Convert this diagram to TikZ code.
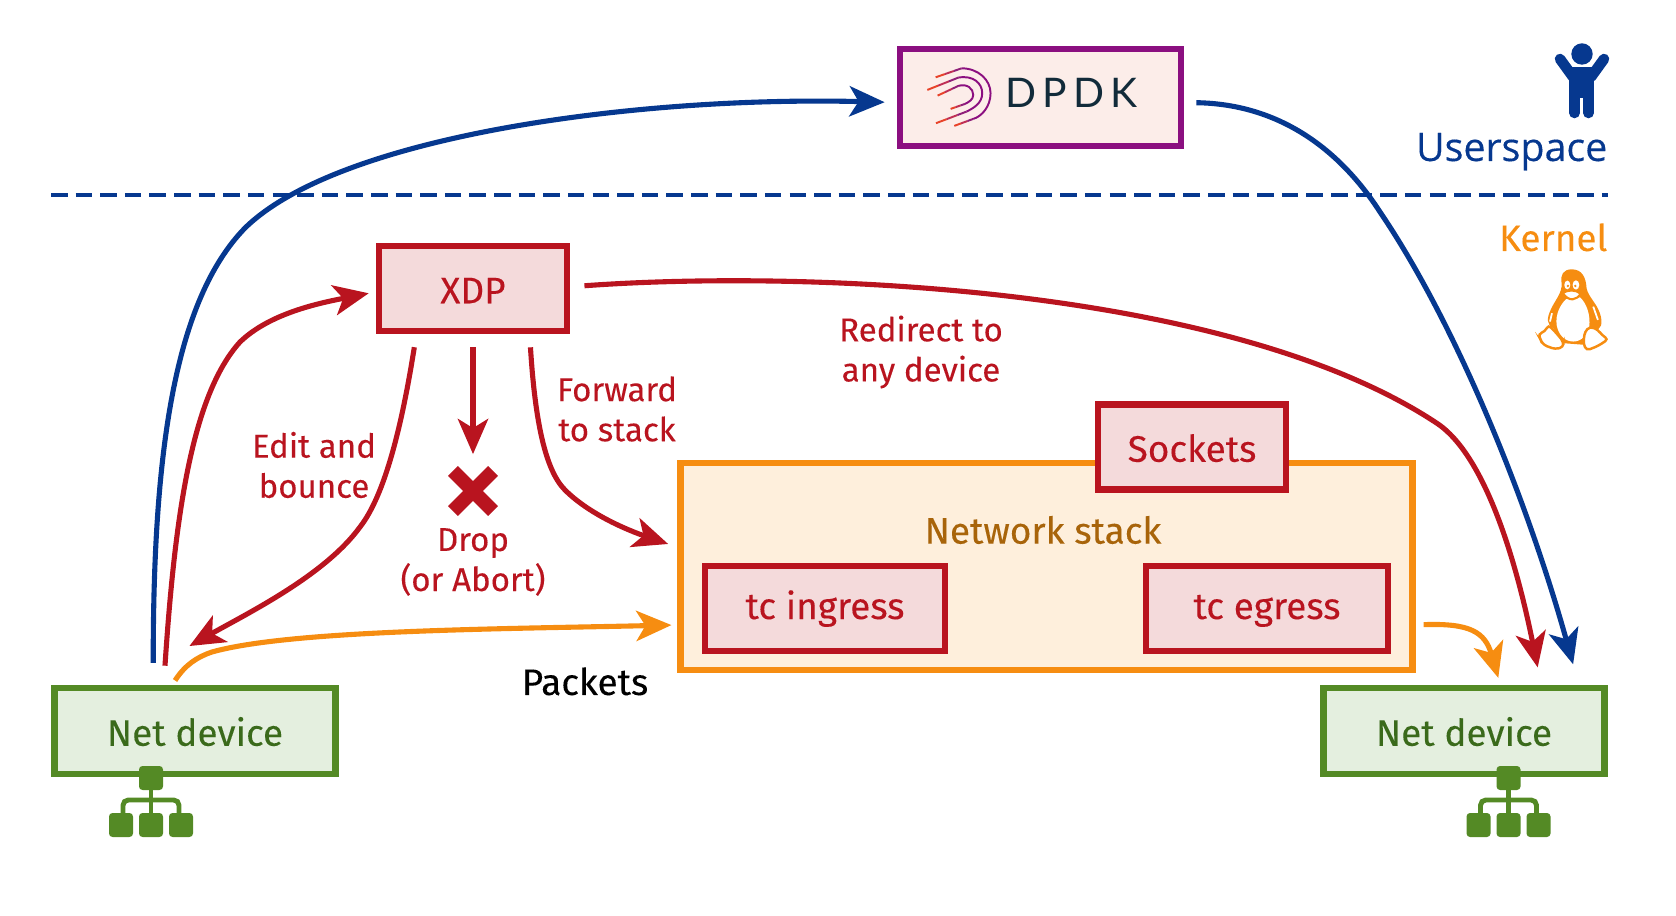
\documentclass[tikz,border=0pt]{standalone}
\usepackage{fontspec}
\setmainfont[FakeBold=0.15]{Fira Sans}
\newfontfamily\userfont[FakeBold=0.3]{Open Sans}
\newfontfamily\dpdkfont[LetterSpace=15]{Lato}
\usetikzlibrary{calc,positioning,arrows.meta,shapes.misc}
\definecolor{xred}{HTML}{B9141F}
\definecolor{xredbg}{HTML}{F4DADB}
\definecolor{xorange}{HTML}{F68D11}
\definecolor{xorangebg}{HTML}{FEEFDC}
\definecolor{xbrown}{HTML}{A8640A}
\definecolor{xgreen}{HTML}{548A25}
\definecolor{xgreenbg}{HTML}{E4EFDF}
\definecolor{xgreentx}{HTML}{3A6A1B}
\definecolor{xblue}{HTML}{06388F}
\definecolor{xpurple}{HTML}{8B0F80}
\definecolor{xpurplebg}{HTML}{FCEDE9}
\definecolor{xink}{HTML}{122B3A}
\definecolor{logoa}{HTML}{E8432A}
\definecolor{logob}{HTML}{BF2F55}
\definecolor{logoc}{HTML}{8E1F78}
\tikzset{
 txt/.style={font=\fontsize{10.5}{11.4}\selectfont},
 box/.style={draw, line width=1.9pt, txt, text height=8.4pt, text depth=0pt, minimum width=1.88cm, minimum height=.85cm, inner sep=0pt},
 redbox/.style={box, draw=xred, fill=xredbg, text=xred},
 netbox/.style={box, draw=xgreen, fill=xgreenbg, text=xgreentx, minimum width=2.81cm, minimum height=.86cm},
 lbl/.style={font=\fontsize{9.4}{11.4}\selectfont, align=center, text=xred, inner sep=0pt},
 conn/.style={line width=1.45pt, -{Stealth[length=10pt,width=8.6pt,inset=2.6pt]}},
 redc/.style={conn, draw=xred},
 bluec/.style={conn, draw=xblue},
 orangec/.style={conn, draw=xorange},
 sepline/.style={draw=xblue, line width=1.2pt, dash pattern=on 4.7pt off 2.3pt},
 logoline/.style={line width=.55pt},
}
% network icon under a net device, #1 is the middle of its top square
\newcommand{\neticon}[1]{
 \begin{scope}[shift={#1}]
 \foreach \i in {-30,0,30}{\fill[xgreen, rounded corners=1pt] (\i-12,35) rectangle (\i+12,59);}
 \fill[xgreen, rounded corners=1pt] (-12,-12) rectangle (12,12);
 \draw[xgreen, line width=1.4pt] (0,0) -- (0,47);
 \draw[xgreen, line width=1.4pt, rounded corners=1.5pt] (-28,38) -- (-28,22) -- (28,22) -- (28,38);
 \end{scope}}
% the straight tails of the logo fade from red to purple
\newcommand{\logotail}[2]{
 \foreach \s/\u/\c in {0/.35/logoa,.35/.7/logob,.7/1/logoc}{
 \draw[logoline, \c] ($#1!\s!#2$) -- ($#1!\u!#2$);}}

\begin{document}
\begin{tikzpicture}[x=.01cm, y=-.01cm]
\useasboundingbox (0,0) rectangle (1676,916);

\coordinate (sepl) at (51,195);
\coordinate (sepr) at (1608,195);
\draw[sepline] (sepl) -- (sepr);

\node[box, draw=xpurple, fill=xpurplebg, minimum width=2.81cm, minimum height=.97cm] (dpdk) at (1040.5,97.5) {};
\node[redbox] (xdp) at (473,288.5) {XDP};
\node[box, draw=xorange, fill=xorangebg, minimum width=7.31cm, minimum height=2.07cm] (stack) at (1046.5,566.5) {};
\node[redbox] (sockets) at (1192,447) {Sockets};
\node[redbox, minimum width=2.4cm, text height=6pt] (ingress) at (825,608.5) {tc ingress};
\node[redbox, minimum width=2.42cm, text height=6pt] (egress) at (1267,608.5) {tc egress};
\node[netbox] (netl) at (195,731) {Net device};
\node[netbox] (netr) at (1464,731) {Net device};
\node[cross out, draw=xred, line width=4pt, minimum size=.4cm, inner sep=0pt, outer sep=0pt] (dropx) at (473,491) {};

\node[txt, text=xbrown, inner sep=0pt] (stacklbl) at (1043,530) {Network stack};
\node[lbl] (editlbl) at (314,465) {Edit and\\bounce};
\node[lbl] (fwdlbl) at (617,409) {Forward\\to stack};
\node[lbl] (redirlbl) at (921,352) {Redirect to\\any device};
\node[lbl] (droplbl) at (473,562) {Drop\\(or Abort)};
\node[txt, inner sep=0pt, anchor=base] (pktlbl) at (585,695) {Packets};
\node[font=\fontsize{11.2}{12}\selectfont, text=xblue, inner sep=0pt, anchor=base east] (userlbl) at (1608,161) {\userfont Userspace};
\node[txt, text=xorange, inner sep=0pt, anchor=base east] (kernlbl) at (1608,251) {Kernel};
\node[font=\dpdkfont\fontsize{11.6}{12}\selectfont, text=xink, inner sep=0pt, anchor=base west] (dpdklbl) at (1005,108) {DPDK};

% userspace path
\draw[bluec, shorten <=6.2pt, shorten >=3.4pt] (netl.132.4) .. controls (153,450) and (175,300) .. (245,228)
 .. controls (340,135) and (640,96) .. (dpdk.182.5);
\draw[bluec, shorten <=3.4pt, shorten >=6pt] (dpdk.358.2) .. controls (1280,104) and (1340,150) .. (1380,212)
 .. controls (1460,330) and (1530,510) .. (netr.22.5);

% xdp paths
\draw[redc, shorten <=5.4pt, shorten >=2pt] (netl.124) .. controls (175,515) and (192,395) .. (240,342)
 .. controls (270,313) and (320,303) .. (xdp.182.6);
\draw[redc, shorten <=3.7pt, shorten >=22.4pt] (xdp.219) .. controls (402,425) and (385,495) .. (360,527)
 .. controls (325,575) and (250,612) .. (netl.148.8);
\draw[redc, shorten <=3.7pt, shorten >=4.8pt] (xdp.south) -- (dropx.north);
\draw[redc, shorten <=3.7pt, shorten >=2.8pt] (xdp.321) .. controls (535,420) and (545,470) .. (565,490)
 .. controls (590,515) and (630,531) .. (stack.177.4);
\draw[redc, shorten <=4pt, shorten >=5pt] (xdp.1) .. controls (800,270) and (1230,285) .. (1438,424)
 .. controls (1490,460) and (1520,580) .. (netr.31.5);

% packets
\draw[orangec, shorten <=1.4pt, shorten >=1.7pt] (netl.116.6) .. controls (185,665) and (197,657) .. (212,652)
 .. controls (290,630) and (500,629) .. (stack.189.3);
\draw[orangec, shorten <=2.3pt, shorten >=2pt] (stack.351.6) .. controls (1470,623) and (1485,632) .. (netr.52);

\neticon{(151,778)}
\neticon{(1508.5,778)}

% dpdk logo
\begin{scope}[shift={(920,55)}, x=.00333cm, y=-.00333cm]
\draw[logoline, xpurple] (125,40) .. controls (175,40) and (212,75) .. (212,115) .. controls (212,155) and (185,185) .. (160,192);
\draw[logoline, xpurple] (115,68) .. controls (160,60) and (187,85) .. (187,115) .. controls (187,145) and (160,160) .. (140,170);
\draw[logoline, xpurple] (115,93) .. controls (140,85) and (160,100) .. (160,120) .. controls (160,135) and (145,142) .. (135,147);
\logotail{(47,67)}{(125,40)}
\logotail{(103,213)}{(160,192)}
\logotail{(22,105)}{(115,68)}
\logotail{(48,205)}{(140,170)}
\logotail{(53,122)}{(115,93)}
\logotail{(92,162)}{(135,147)}
\end{scope}

% person
\fill[xblue] (1582,54) circle (10.7);
\fill[xblue] (1569,67) rectangle (1594,98);
\draw[xblue, line width=3pt, line cap=round] (1574.5,80) -- (1574.5,113) (1588.5,80) -- (1588.5,113);
\draw[xblue, line width=3pt, line cap=round] (1560,59) -- (1573,77) (1604,59) -- (1591,77);

% tux
\begin{scope}[shift={(1530,260)}, x=.00333cm, y=-.00333cm]
\fill[xorange] (125,28) .. controls (100,28) and (90,45) .. (95,70) .. controls (97,100) and (75,120) .. (62,150)
 .. controls (50,175) and (50,195) .. (70,205) -- (100,250) -- (165,255) -- (190,215)
 .. controls (215,210) and (220,190) .. (210,160) .. controls (200,130) and (175,110) .. (170,85)
 .. controls (168,50) and (155,28) .. (125,28) -- cycle;
\fill[white] (108,118) .. controls (90,135) and (76,165) .. (80,195) .. controls (85,225) and (105,245) .. (130,245)
 .. controls (155,245) and (172,225) .. (178,200) .. controls (182,165) and (170,130) .. (150,112) -- cycle;
\fill[white] (112,75) ellipse (9 and 13) (138,75) ellipse (10 and 14);
\fill[xorange] (114,78) circle (4) (136,78) circle (4);
\filldraw[fill=white, draw=xorange, line width=.6pt] (98,99) .. controls (115,90) and (135,87) .. (152,102) .. controls (140,120) and (118,128) .. (98,99) -- cycle;
\draw[white, line width=.5pt] (66,160) -- (60,185) (190,140) -- (204,180);
\filldraw[fill=white, draw=xorange, line width=.7pt, rounded corners=1pt] (25,222) -- (45,215) -- (55,195) -- (75,215) -- (100,245) -- (100,262) -- (75,268) -- (40,255) -- (32,240) -- cycle;
\filldraw[fill=white, draw=xorange, line width=.7pt, rounded corners=1pt] (160,250) -- (165,215) -- (180,200) -- (205,210) -- (215,225) -- (235,238) -- (205,258) -- (170,272) -- cycle;
\end{scope}
\end{tikzpicture}
\end{document}
